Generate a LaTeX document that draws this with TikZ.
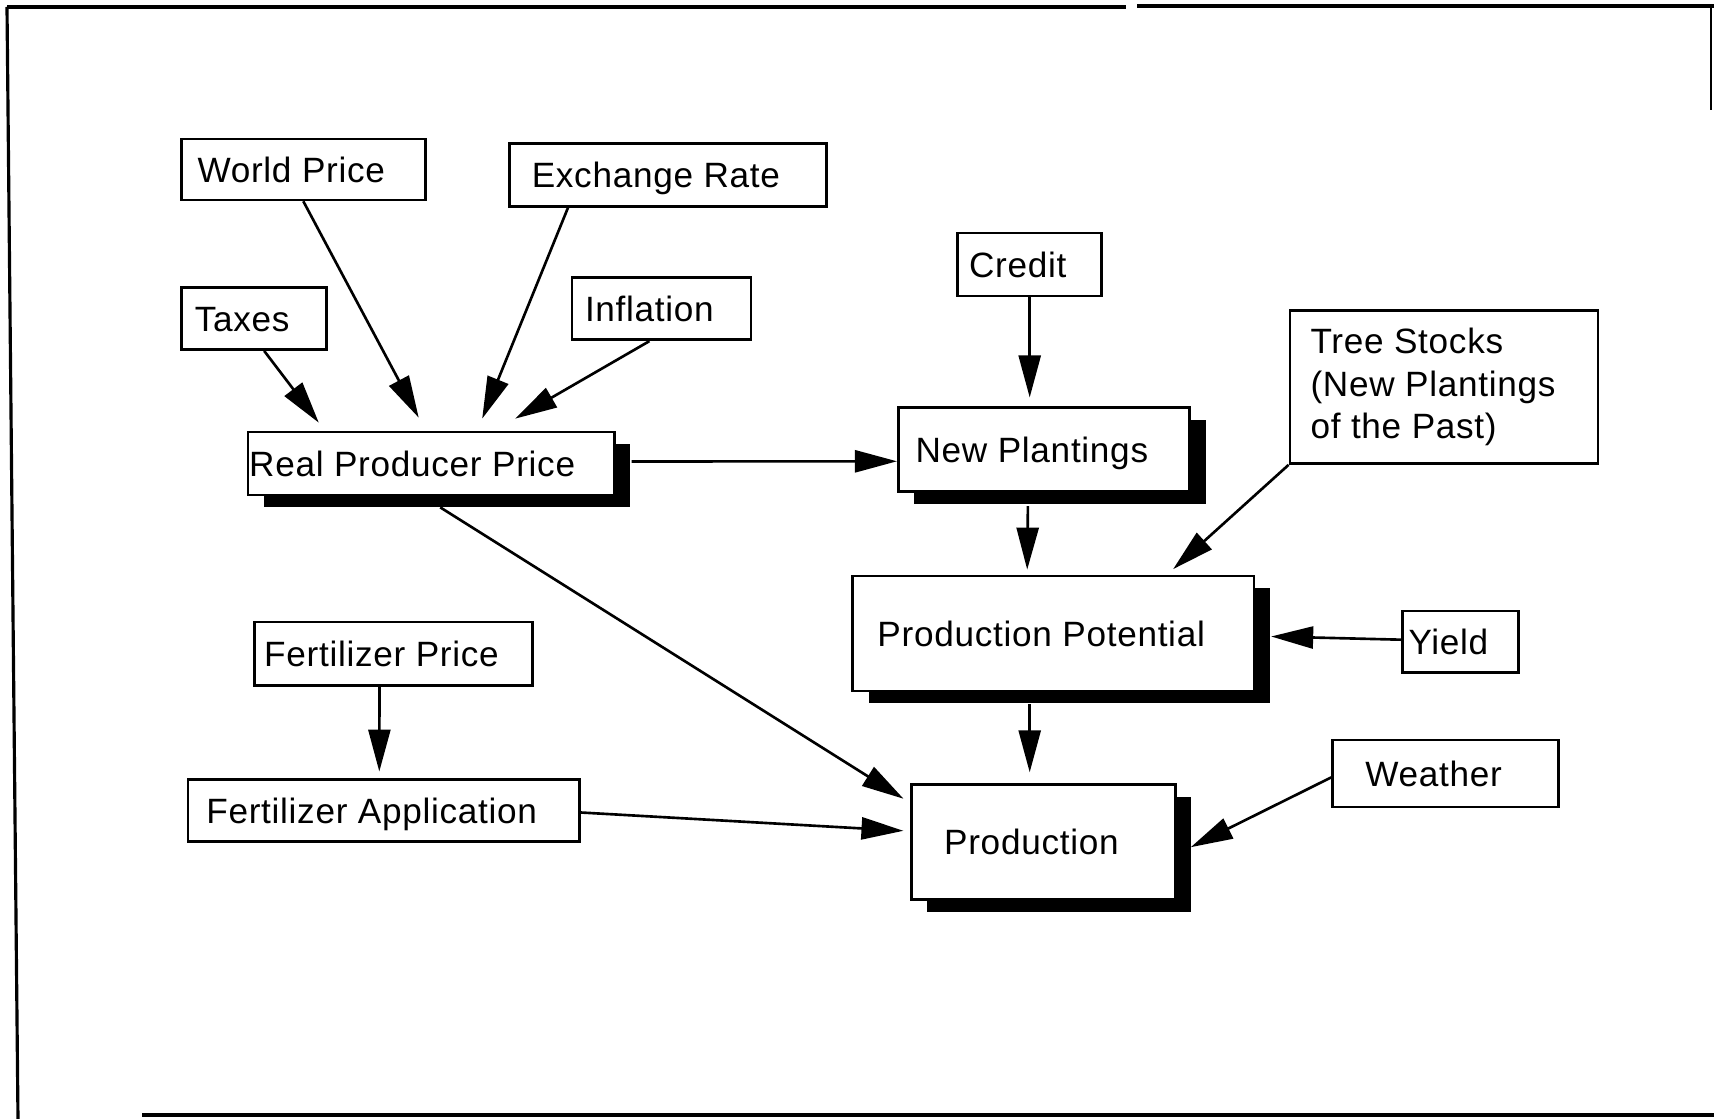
\documentclass[tikz,border=0pt]{standalone}
\usepackage{fontspec}
\setmainfont{Liberation Sans}[LetterSpace=2]
\usetikzlibrary{arrows.meta,calc,shadows}
\newcommand\tpad{\hspace*{0.24cm}}
\begin{document}
\begin{tikzpicture}[x=0.01cm,y=-0.01cm,
  font=\fontsize{10pt}{12pt}\selectfont,
  box/.style={draw, line width=0.75pt, fill=white, inner sep=0pt, text height=7.2pt, text depth=0pt},
  tbox/.style={draw, line width=0.75pt, fill=white, inner sep=0pt, align=left},
  shad/.style={drop shadow={fill=black, opacity=1, shadow xshift=0.16cm, shadow yshift=-0.12cm}},
  arr/.style={line width=0.75pt, -{Triangle[length=0.42cm,width=0.22cm]}},
  frame/.style={line width=1.2pt}]
\useasboundingbox (0,0) rectangle (1714,1119);
% frame
\draw[frame] (7,7) -- (1126,7);
\draw[frame] (1137,6) -- (1714,6);
\draw[line width=0.9pt] (7,7) -- (18,1119);
\draw[frame] (142,1115) -- (1714,1115);
\draw[line width=0.6pt] (1711,6) -- (1711,110);
% nodes
\node[box, minimum width=2.44cm, minimum height=0.61cm] (world) at (303.3,169.4) {World Price\tpad};
\node[box, minimum width=3.17cm, minimum height=0.63cm] (exch) at (667.9,174.9) {Exchange Rate\tpad};
\node[box, minimum width=1.45cm, minimum height=0.62cm] (taxes) at (254.2,318.6) {Taxes\tpad};
\node[box, minimum width=1.79cm, minimum height=0.62cm] (infl) at (661.4,308.8) {Inflation\tpad};
\node[box, minimum width=1.44cm, minimum height=0.63cm] (credit) at (1029.7,264.5) {Credit\tpad};
\node[tbox, minimum width=3.08cm, minimum height=1.53cm] (tree) at (1444,387) {Tree Stocks\\(New Plantings\rule{0.22cm}{0pt}\\of the Past)};
\node[box, shad, minimum width=3.66cm, minimum height=0.63cm] (rpp) at (431.2,463.5) {Real Producer Price\hspace*{0.38cm}};
\node[box, shad, minimum width=2.91cm, minimum height=0.84cm] (np) at (1043.9,449.8) {New Plantings\tpad};
\node[box, shad, minimum width=4.01cm, minimum height=1.15cm] (pp) at (1053.2,633.5) {Production Potential\tpad};
\node[box, minimum width=1.16cm, minimum height=0.61cm] (yield) at (1460.4,641.7) {Yield\tpad};
\node[box, minimum width=2.78cm, minimum height=0.63cm] (fp) at (393.5,653.7) {Fertilizer Price\tpad};
\node[box, minimum width=3.91cm, minimum height=0.62cm] (fa) at (383.7,810.5) {Fertilizer Application\tpad};
\node[box, shad, minimum width=2.64cm, minimum height=1.15cm] (prod) at (1043.4,842.2) {Production\tpad};
\node[box, minimum width=2.26cm, minimum height=0.67cm] (weather) at (1445.6,773.4) {Weather\tpad};
% connectors
\draw[arr] ($(taxes.south)+(10,0)$) -- ($(rpp.north west)+(72,-8)$);
\draw[arr] (world.south) -- ($(rpp.north)+(-12.5,-13)$);
\draw[arr] ($(exch.south west)+(60,0)$) -- ($(rpp.north)+(51,-12)$);
\draw[arr] ($(infl.south)+(-12,0)$) -- ($(rpp.north)+(84,-12)$);
\draw[arr] ($(rpp.east)+(16,-2)$) -- ($(np.west)+(0,11.5)$);
\draw[arr] (credit.south) -- ($(credit.south |- np.north)+(0,-9)$);
\draw[arr] ($(np.south)+(-16,13)$) -- ($(pp.north)+(-26,-5)$);
\draw[arr] (tree.south west) -- ($(pp.north east)+(-82,-5.5)$);
\draw[arr] ($(yield.west)+(0,-2)$) -- ($(pp.east)+(16,3)$);
\draw[arr] ($(pp.south)+(-23.5,12)$) -- ($(prod.north)+(-13.7,-11)$);
\draw[arr] ($(weather.west)+(0,4)$) -- ($(prod.east)+(14,5)$);
\draw[arr] ($(rpp.south)+(9,11)$) -- ($(prod.north west)+(-6.5,15.4)$);
\draw[arr] ($(fp.south)+(-14,0)$) -- ($(fa.north)+(-4.4,-6.6)$);
\draw[arr] ($(fa.east)+(0,2)$) -- ($(prod.west)+(-6.5,-11.4)$);
\end{tikzpicture}
\end{document}
